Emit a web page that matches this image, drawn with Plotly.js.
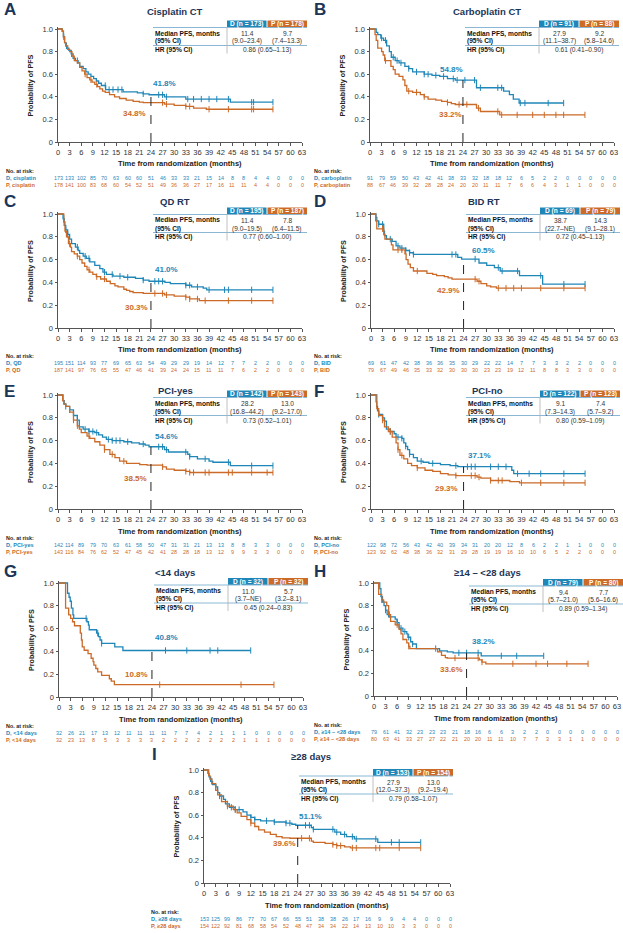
<!DOCTYPE html>
<html>
<head>
<meta charset="utf-8">
<script src="https://cdn.plot.ly/plotly-3.0.1.min.js"></script>
<style>
  html, body { margin: 0; padding: 0; background: #fff; }
  #chart { width: 623px; height: 933px; }
</style>
</head>
<body>
<div id="chart"></div>
<script>
(() => {
    "use strict";

    // ---- data ----
    const xTicks = [0, 3, 6, 9, 12, 15, 18, 21, 24, 27, 30, 33, 36, 39, 42, 45, 48, 51, 54, 57, 60, 63];
    const yTicks = [0, 0.2, 0.4, 0.6, 0.8, 1.0];
    const yTickText = ["0", "0.2", "0.4", "0.6", "0.8", "1.0"];

    const titles = ["Cisplatin CT", "Carboplatin CT", "QD RT", "BID RT", "PCI-yes", "PCI-no", "<14 days", "≥14 – <28 days", "≥28 days"];
    const groups = ["cisplatin", "carboplatin", "QD", "BID", "PCI-yes", "PCI-no", "<14 days", "≥14 – <28 days", "≥28 days"];
    const nD = [173, 91, 195, 69, 142, 122, 32, 79, 153];
    const nP = [178, 88, 187, 79, 143, 123, 32, 80, 154];
    const medD = ["11.4", "27.9", "11.4", "38.7", "28.2", "9.1", "11.0", "9.4", "27.9"];
    const ciD = ["(9.0–23.4)", "(11.1–38.7)", "(9.0–19.5)", "(22.7–NE)", "(16.8–44.2)", "(7.3–14.3)", "(3.7–NE)", "(5.7–21.0)", "(12.0–37.3)"];
    const medP = ["9.7", "9.2", "7.8", "14.3", "13.0", "7.4", "5.7", "7.7", "13.0"];
    const ciP = ["(7.4–13.3)", "(5.8–14.6)", "(6.4–11.5)", "(9.1–28.1)", "(9.2–17.0)", "(5.7–9.2)", "(3.2–8.1)", "(5.6–16.6)", "(9.2–19.4)"];
    const hr = ["0.86 (0.65–1.13)", "0.61 (0.41–0.90)", "0.77 (0.60–1.00)", "0.72 (0.45–1.13)", "0.73 (0.52–1.01)", "0.80 (0.59–1.09)", "0.45 (0.24–0.83)", "0.89 (0.59–1.34)", "0.79 (0.58–1.07)"];
    const pfs24D = [41.8, 54.8, 41.0, 60.5, 54.6, 37.1, 40.8, 38.2, 51.1];
    const pfs24P = [34.8, 33.2, 30.3, 42.9, 38.5, 29.3, 10.8, 33.6, 39.6];

    // A: cisplatin
    const cisD_t = [0, 1.1, 1.4, 1.7, 2.0, 2.3, 2.8, 3.4, 3.9, 4.5, 5.2, 5.6, 6.5, 7.2, 7.8, 8.5, 9.2, 9.9, 10.5, 11.2, 12.3, 16.8, 20.5, 22.0, 23.5, 27.5, 33.0, 44.5, 55.5];
    const cisD_s = [1, 0.98, 0.93, 0.88, 0.85, 0.83, 0.81, 0.78, 0.74, 0.72, 0.70, 0.67, 0.65, 0.62, 0.60, 0.58, 0.56, 0.54, 0.52, 0.50, 0.464, 0.444, 0.435, 0.426, 0.418, 0.40, 0.38, 0.352, 0.352];
    const cisD_c = [1.5, 2.2, 3.5, 5.0, 12.2, 13.2, 14.2, 15.5, 16.5, 22.0, 26.0, 27.0, 28.0, 33.5, 35.0, 37.0, 39.0, 41.0, 44.0, 50.0, 50.5, 55.5];
    const cisD_risk = [173, 133, 102, 85, 70, 63, 60, 60, 51, 46, 33, 33, 21, 15, 14, 8, 8, 4, 4, 0, 0, 0];
    const cisP_t = [0, 1.1, 1.4, 1.7, 2.0, 2.5, 3.0, 3.6, 4.2, 5.0, 5.6, 6.2, 6.9, 7.5, 8.2, 8.8, 9.5, 10.2, 10.8, 11.5, 12.2, 13.3, 14.6, 15.9, 17.6, 19.4, 21.0, 22.0, 27.5, 30.0, 33.0, 35.0, 38.3, 55.5];
    const cisP_s = [1, 0.98, 0.93, 0.88, 0.85, 0.82, 0.80, 0.76, 0.72, 0.70, 0.66, 0.63, 0.60, 0.57, 0.55, 0.53, 0.51, 0.49, 0.47, 0.45, 0.44, 0.42, 0.40, 0.385, 0.37, 0.36, 0.352, 0.348, 0.335, 0.325, 0.315, 0.30, 0.29, 0.29];
    const cisP_c = [7.0, 8.5, 10.0, 27.0, 28.0, 33.0, 34.0, 39.0, 44.0, 50.0, 50.5, 55.5];
    const cisP_risk = [178, 141, 100, 83, 68, 60, 54, 52, 51, 49, 36, 36, 27, 17, 16, 11, 11, 4, 4, 0, 0, 0];

    // B: carboplatin
    const carD_t = [0, 1.6, 2.0, 2.8, 3.5, 4.3, 5.0, 5.5, 6.5, 7.5, 9.0, 10.0, 11.0, 14.0, 16.0, 18.0, 20.0, 22.0, 27.5, 34.5, 36.0, 37.0, 38.5, 50.0];
    const carD_s = [1, 0.97, 0.95, 0.92, 0.90, 0.85, 0.80, 0.75, 0.72, 0.70, 0.67, 0.65, 0.62, 0.60, 0.59, 0.58, 0.56, 0.548, 0.48, 0.45, 0.42, 0.38, 0.345, 0.345];
    const carD_c = [3.0, 4.0, 6.0, 7.0, 8.0, 10.0, 12.0, 14.0, 15.0, 17.0, 19.0, 21.5, 22.5, 24.5, 27.0, 28.5, 33.0, 34.0, 38.8, 40.0, 46.0, 50.0];
    const carD_risk = [91, 79, 59, 50, 43, 42, 41, 38, 33, 32, 18, 18, 12, 6, 5, 2, 2, 0, 0, 0, 0, 0];
    const carP_t = [0, 1.3, 1.6, 2.0, 3.0, 3.4, 3.8, 5.4, 6.0, 6.5, 7.5, 8.5, 9.0, 9.5, 11.0, 13.0, 14.0, 15.0, 17.0, 18.5, 20.0, 21.0, 22.0, 27.5, 28.5, 33.5, 55.5];
    const carP_s = [1, 0.95, 0.90, 0.83, 0.80, 0.77, 0.72, 0.67, 0.64, 0.60, 0.58, 0.55, 0.50, 0.45, 0.44, 0.42, 0.40, 0.38, 0.37, 0.36, 0.35, 0.34, 0.332, 0.30, 0.27, 0.24, 0.24];
    const carP_c = [4.0, 10.0, 12.0, 14.0, 20.0, 23.0, 25.0, 28.0, 33.0, 34.0, 38.0, 42.0, 45.0, 48.0, 50.0, 55.5];
    const carP_risk = [88, 67, 46, 39, 32, 28, 28, 24, 20, 20, 11, 11, 7, 6, 6, 4, 3, 1, 1, 0, 0, 0];

    // C: QD RT
    const qdD_t = [0, 1.3, 1.6, 2.0, 2.5, 3.0, 3.5, 4.5, 5.2, 5.6, 6.5, 7.3, 8.2, 9.5, 10.8, 11.6, 12.5, 14.2, 17.0, 20.0, 22.0, 23.5, 27.6, 29.0, 33.0, 34.5, 37.5, 38.4, 55.5];
    const qdD_s = [1, 0.96, 0.90, 0.86, 0.82, 0.78, 0.74, 0.71, 0.68, 0.655, 0.63, 0.61, 0.58, 0.55, 0.52, 0.49, 0.47, 0.455, 0.445, 0.435, 0.42, 0.41, 0.40, 0.39, 0.375, 0.36, 0.35, 0.335, 0.335];
    const qdD_c = [1.5, 2.0, 2.5, 5.0, 7.0, 8.0, 12.0, 14.0, 16.0, 18.0, 22.0, 25.0, 26.0, 27.0, 33.0, 34.0, 36.0, 39.0, 43.0, 44.0, 50.0, 55.5];
    const qdD_risk = [195, 151, 114, 93, 77, 69, 65, 63, 54, 49, 29, 29, 19, 14, 12, 7, 7, 2, 2, 0, 0, 0];
    const qdP_t = [0, 1.5, 1.8, 2.2, 2.7, 3.2, 3.5, 4.2, 5.0, 5.6, 6.2, 6.9, 7.5, 8.2, 9.0, 9.9, 11.0, 12.5, 13.5, 14.7, 15.5, 17.0, 17.7, 18.5, 19.4, 22.0, 27.5, 30.0, 33.0, 34.0, 36.5, 55.5];
    const qdP_s = [1, 0.93, 0.85, 0.80, 0.74, 0.71, 0.67, 0.65, 0.63, 0.60, 0.57, 0.54, 0.51, 0.49, 0.47, 0.45, 0.43, 0.41, 0.39, 0.37, 0.36, 0.34, 0.33, 0.32, 0.31, 0.303, 0.29, 0.28, 0.27, 0.255, 0.24, 0.24];
    const qdP_c = [3.0, 5.0, 8.0, 10.0, 12.0, 25.0, 27.0, 28.0, 33.0, 34.0, 36.0, 38.0, 44.0, 50.0, 55.5];
    const qdP_risk = [187, 141, 97, 76, 65, 55, 47, 46, 41, 39, 24, 24, 15, 11, 11, 7, 6, 2, 2, 0, 0, 0];

    // D: BID RT
    const bidD_t = [0, 1.3, 1.5, 2.0, 3.3, 3.5, 4.0, 5.5, 6.5, 7.5, 9.0, 10.0, 11.0, 22.5, 23.5, 28.0, 30.0, 32.0, 33.5, 38.5, 44.5, 55.5];
    const bidD_s = [1, 0.97, 0.94, 0.91, 0.85, 0.81, 0.78, 0.76, 0.72, 0.70, 0.68, 0.66, 0.645, 0.62, 0.605, 0.57, 0.55, 0.53, 0.50, 0.46, 0.385, 0.385];
    const bidD_c = [2.0, 3.0, 5.0, 7.0, 8.0, 9.0, 10.0, 11.0, 21.0, 22.0, 27.0, 33.0, 34.0, 38.0, 44.0, 50.0, 55.5];
    const bidD_risk = [69, 61, 47, 42, 38, 36, 36, 35, 30, 29, 22, 22, 14, 7, 7, 3, 3, 2, 2, 0, 0, 0];
    const bidP_t = [0, 1.2, 1.5, 3.3, 3.6, 5.3, 5.7, 8.8, 9.1, 9.6, 10.2, 11.0, 14.5, 16.0, 17.0, 19.0, 20.0, 21.0, 27.5, 28.5, 30.0, 31.0, 32.5, 55.5];
    const bidP_s = [1, 0.94, 0.87, 0.82, 0.78, 0.73, 0.685, 0.65, 0.60, 0.56, 0.53, 0.50, 0.48, 0.47, 0.46, 0.45, 0.44, 0.429, 0.41, 0.39, 0.37, 0.36, 0.35, 0.35];
    const bidP_c = [3.0, 7.0, 8.0, 12.0, 27.0, 28.0, 33.0, 35.0, 37.0, 39.0, 44.0, 50.0, 55.5];
    const bidP_risk = [79, 67, 49, 46, 35, 33, 32, 30, 30, 30, 23, 23, 19, 12, 11, 8, 8, 3, 3, 0, 0, 0];

    // E: PCI-yes
    const pciyD_t = [0, 1.3, 1.6, 2.0, 3.0, 4.0, 5.0, 5.5, 6.5, 8.0, 9.5, 10.5, 11.5, 12.5, 14.0, 17.0, 19.0, 21.0, 22.5, 23.5, 27.5, 28.5, 33.5, 34.0, 36.0, 39.0, 40.0, 44.5, 55.5];
    const pciyD_s = [1, 0.95, 0.92, 0.90, 0.87, 0.82, 0.78, 0.72, 0.70, 0.68, 0.67, 0.65, 0.63, 0.61, 0.60, 0.59, 0.58, 0.57, 0.56, 0.546, 0.52, 0.50, 0.48, 0.46, 0.44, 0.42, 0.41, 0.38, 0.38];
    const pciyD_c = [2.0, 3.0, 5.0, 7.0, 8.0, 9.0, 10.0, 13.0, 14.0, 15.0, 16.0, 18.0, 22.0, 26.0, 27.0, 28.0, 33.0, 34.0, 38.0, 44.0, 50.0, 55.5];
    const pciyD_risk = [142, 114, 89, 79, 70, 63, 61, 58, 50, 47, 31, 31, 21, 13, 13, 8, 8, 3, 3, 0, 0, 0];
    const pciyP_t = [0, 1.2, 1.5, 2.0, 3.0, 4.0, 5.0, 5.5, 6.0, 7.5, 8.2, 9.5, 10.8, 12.0, 13.4, 14.7, 15.9, 17.7, 21.1, 23.0, 27.0, 28.0, 30.0, 33.0, 34.0, 55.5];
    const pciyP_s = [1, 0.95, 0.92, 0.90, 0.85, 0.78, 0.73, 0.70, 0.67, 0.64, 0.62, 0.59, 0.56, 0.52, 0.48, 0.45, 0.42, 0.40, 0.39, 0.385, 0.37, 0.35, 0.34, 0.33, 0.32, 0.32];
    const pciyP_c = [4.0, 5.0, 8.0, 12.0, 14.0, 17.0, 27.0, 33.0, 34.0, 35.0, 38.0, 39.0, 44.0, 45.0, 50.0, 54.0, 55.5];
    const pciyP_risk = [143, 116, 84, 76, 62, 52, 47, 45, 42, 41, 28, 28, 18, 13, 12, 9, 9, 3, 3, 0, 0, 0];

    // F: PCI-no
    const pcinD_t = [0, 1.5, 1.7, 2.0, 3.0, 3.5, 4.0, 5.0, 6.0, 6.5, 8.0, 8.5, 9.0, 9.5, 10.0, 11.0, 12.0, 13.5, 15.0, 18.0, 20.5, 22.5, 36.5, 37.0, 55.5];
    const pcinD_s = [1, 0.90, 0.86, 0.83, 0.80, 0.77, 0.70, 0.68, 0.66, 0.63, 0.62, 0.58, 0.55, 0.52, 0.48, 0.45, 0.42, 0.41, 0.40, 0.39, 0.38, 0.371, 0.34, 0.31, 0.31];
    const pcinD_c = [2.0, 3.0, 5.0, 7.0, 8.0, 9.0, 10.0, 13.0, 16.0, 22.0, 25.0, 26.0, 27.0, 31.0, 33.0, 35.0, 38.0, 41.0, 44.0, 50.0, 55.5];
    const pcinD_risk = [122, 98, 72, 56, 43, 42, 40, 39, 34, 31, 20, 20, 12, 8, 6, 2, 2, 1, 1, 0, 0, 0];
    const pcinP_t = [0, 1.3, 1.5, 2.0, 3.0, 3.5, 4.5, 5.5, 6.5, 7.0, 7.5, 8.5, 9.5, 10.5, 12.0, 14.0, 16.0, 18.0, 20.0, 22.0, 27.5, 28.5, 31.0, 36.0, 38.5, 55.5];
    const pcinP_s = [1, 0.94, 0.88, 0.82, 0.78, 0.72, 0.68, 0.63, 0.58, 0.52, 0.47, 0.44, 0.40, 0.38, 0.36, 0.34, 0.33, 0.31, 0.30, 0.293, 0.28, 0.27, 0.25, 0.24, 0.23, 0.23];
    const pcinP_c = [3.0, 5.0, 7.0, 8.0, 12.0, 22.0, 26.0, 27.0, 28.0, 31.0, 33.0, 34.0, 39.0, 44.0, 50.0, 55.5];
    const pcinP_risk = [123, 92, 62, 48, 38, 36, 32, 31, 29, 28, 19, 19, 16, 10, 10, 6, 5, 2, 2, 0, 0, 0];

    // G: <14 days
    const lt14D_t = [0, 2.2, 2.6, 2.9, 3.2, 3.6, 3.8, 7.2, 7.6, 7.8, 9.7, 10.2, 10.6, 11.0, 14.4, 16.5, 49.5];
    const lt14D_s = [1, 0.91, 0.875, 0.84, 0.78, 0.72, 0.69, 0.66, 0.63, 0.59, 0.56, 0.53, 0.50, 0.47, 0.44, 0.408, 0.408];
    const lt14D_c = [7.0, 10.0, 11.0, 27.5, 33.0, 39.0, 41.0, 49.5];
    const lt14D_risk = [32, 26, 21, 17, 13, 12, 11, 11, 11, 11, 7, 7, 4, 2, 1, 1, 1, 0, 0, 0, 0, 0];
    const lt14P_t = [0, 1.7, 2.5, 3.0, 3.5, 4.0, 5.5, 5.8, 6.0, 6.5, 7.5, 8.3, 8.8, 9.0, 9.5, 10.0, 11.0, 13.0, 13.5, 14.3, 55.5];
    const lt14P_s = [1, 0.78, 0.72, 0.69, 0.66, 0.625, 0.56, 0.50, 0.44, 0.41, 0.38, 0.34, 0.31, 0.28, 0.25, 0.22, 0.19, 0.16, 0.14, 0.108, 0.108];
    const lt14P_c = [26.0, 47.0, 55.5];
    const lt14P_risk = [32, 23, 13, 8, 5, 3, 3, 3, 3, 2, 2, 2, 2, 2, 2, 2, 1, 1, 1, 0, 0, 0];

    // H: >=14 - <28 days
    const midD_t = [0, 1.5, 1.8, 2.2, 2.6, 3.0, 3.4, 3.8, 5.5, 6.0, 6.5, 7.5, 8.5, 8.8, 9.5, 10.0, 11.0, 17.0, 19.0, 20.5, 27.8, 44.0];
    const midD_s = [1, 0.95, 0.88, 0.83, 0.80, 0.76, 0.72, 0.70, 0.68, 0.65, 0.60, 0.57, 0.55, 0.52, 0.48, 0.46, 0.42, 0.40, 0.39, 0.382, 0.355, 0.355];
    const midD_c = [3.0, 6.0, 7.0, 8.0, 9.0, 10.0, 16.0, 22.0, 24.0, 27.0, 33.0, 37.0, 44.0];
    const midD_risk = [79, 61, 41, 32, 23, 23, 23, 21, 18, 16, 6, 6, 3, 2, 2, 0, 0, 0, 0, 0, 0, 0];
    const midP_t = [0, 1.2, 2.0, 2.5, 3.3, 3.8, 4.3, 5.5, 6.5, 7.0, 7.5, 8.5, 9.0, 9.3, 16.5, 17.5, 18.5, 19.0, 27.3, 28.0, 29.0, 55.5];
    const midP_s = [1, 0.90, 0.85, 0.83, 0.80, 0.72, 0.66, 0.63, 0.59, 0.55, 0.50, 0.47, 0.44, 0.42, 0.39, 0.36, 0.34, 0.336, 0.32, 0.30, 0.285, 0.285];
    const midP_c = [2.0, 4.0, 6.0, 9.0, 21.0, 27.0, 28.0, 36.0, 42.0, 45.0, 50.0, 55.5];
    const midP_risk = [80, 63, 41, 33, 27, 27, 22, 21, 20, 20, 11, 11, 10, 7, 7, 3, 3, 1, 1, 0, 0, 0];

    // I: >=28 days
    const ge28D_t = [0, 1.0, 1.3, 1.7, 2.2, 3.0, 3.5, 4.0, 5.0, 5.5, 6.5, 8.0, 10.0, 11.0, 12.0, 13.0, 14.5, 18.0, 21.0, 22.5, 23.5, 27.5, 28.0, 33.5, 35.0, 36.5, 38.5, 44.5, 55.5];
    const ge28D_s = [1, 0.97, 0.94, 0.90, 0.87, 0.85, 0.80, 0.77, 0.74, 0.70, 0.67, 0.65, 0.63, 0.60, 0.58, 0.56, 0.55, 0.54, 0.53, 0.52, 0.511, 0.49, 0.475, 0.45, 0.43, 0.41, 0.39, 0.36, 0.36];
    const ge28D_c = [2.0, 3.0, 4.0, 6.0, 7.0, 8.0, 9.0, 12.0, 13.0, 16.0, 18.0, 21.0, 22.0, 26.0, 27.0, 28.0, 33.0, 34.0, 36.0, 38.0, 39.0, 44.0, 48.0, 50.0, 55.5];
    const ge28D_risk = [153, 125, 99, 86, 77, 70, 67, 66, 55, 51, 38, 38, 26, 17, 16, 9, 9, 4, 4, 0, 0, 0];
    const ge28P_t = [0, 1.2, 1.5, 2.0, 3.0, 3.5, 4.5, 6.0, 7.5, 8.5, 9.5, 11.0, 12.0, 13.0, 14.0, 15.5, 17.0, 18.5, 20.0, 22.0, 27.5, 28.0, 31.0, 33.0, 34.0, 36.0, 37.5, 55.5];
    const ge28P_s = [1, 0.95, 0.92, 0.88, 0.82, 0.78, 0.72, 0.68, 0.65, 0.62, 0.59, 0.56, 0.53, 0.50, 0.47, 0.45, 0.43, 0.41, 0.40, 0.396, 0.37, 0.36, 0.35, 0.34, 0.33, 0.32, 0.31, 0.31];
    const ge28P_c = [6.0, 8.0, 12.0, 25.0, 27.0, 33.0, 34.0, 35.0, 38.0, 39.0, 44.0, 45.0, 50.0, 55.5];
    const ge28P_risk = [154, 122, 92, 81, 68, 58, 54, 52, 48, 47, 34, 34, 22, 14, 13, 10, 10, 3, 3, 0, 0, 0];

    const curvesD = [
        [cisD_t, cisD_s, cisD_c, cisD_risk], [carD_t, carD_s, carD_c, carD_risk],
        [qdD_t, qdD_s, qdD_c, qdD_risk], [bidD_t, bidD_s, bidD_c, bidD_risk],
        [pciyD_t, pciyD_s, pciyD_c, pciyD_risk], [pcinD_t, pcinD_s, pcinD_c, pcinD_risk],
        [lt14D_t, lt14D_s, lt14D_c, lt14D_risk], [midD_t, midD_s, midD_c, midD_risk],
        [ge28D_t, ge28D_s, ge28D_c, ge28D_risk],
    ];
    const curvesP = [
        [cisP_t, cisP_s, cisP_c, cisP_risk], [carP_t, carP_s, carP_c, carP_risk],
        [qdP_t, qdP_s, qdP_c, qdP_risk], [bidP_t, bidP_s, bidP_c, bidP_risk],
        [pciyP_t, pciyP_s, pciyP_c, pciyP_risk], [pcinP_t, pcinP_s, pcinP_c, pcinP_risk],
        [lt14P_t, lt14P_s, lt14P_c, lt14P_risk], [midP_t, midP_s, midP_c, midP_risk],
        [ge28P_t, ge28P_s, ge28P_c, ge28P_risk],
    ];

    // ---- layout (pixel boxes of each panel) ----
    const W = 623, H = 933;
    const BLUE = "#1f87b8", ORANGE = "#cc6a27", NAVY = "#1c3557";
    const FONT = "Liberation Sans, Arial, sans-serif";
    const px = (x) => x / W;
    const py = (y) => 1 - y / H;
    const esc = (s) => s.replace(/</g, "&lt;").replace(/>/g, "&gt;");

    const boxes = [
        { l: 58, r: 302, t: 29, b: 142, hy: 20.5, letter: "A", lx: 2, ly: 10, tx: 175, ty: 12, rx: 4, dLab: [27.5, 0.10], pLab: [19.8, -0.10] },
        { l: 370, r: 614, t: 29, b: 142, hy: 20.5, letter: "B", lx: 312, ly: 10, tx: 487, ty: 12, rx: 312, dLab: [21.0, 0.09], pLab: [20.7, -0.09] },
        { l: 58, r: 302, t: 214, b: 328, hy: 207.5, letter: "C", lx: 2, ly: 201, tx: 175, ty: 201, rx: 4, dLab: [28.0, 0.10], pLab: [20.3, -0.12] },
        { l: 371, r: 614, t: 214, b: 328, hy: 207.5, letter: "D", lx: 312, ly: 201, tx: 484, ty: 201, rx: 312, dLab: [29.2, 0.075], pLab: [20.0, -0.10] },
        { l: 58, r: 302, t: 395, b: 509, hy: 390.5, letter: "E", lx: 2, ly: 391, tx: 175, ty: 390, rx: 4, dLab: [28.0, 0.09], pLab: [20.0, -0.12] },
        { l: 371, r: 614, t: 395, b: 509, hy: 390.5, letter: "F", lx: 312, ly: 391, tx: 487, ty: 390, rx: 312, dLab: [28.1, 0.10], pLab: [19.5, -0.11] },
        { l: 59, r: 303, t: 583, b: 697, hy: 578, letter: "G", lx: 2, ly: 571, tx: 175, ty: 572, rx: 4, dLab: [27.8, 0.11], pLab: [20.0, 0.09] },
        { l: 374, r: 617, t: 583, b: 696, hy: 579, letter: "H", lx: 312, ly: 571, tx: 487, ty: 572, rx: 312, dLab: [28.3, 0.10], pLab: [20.1, -0.10] },
        { l: 204, r: 450, t: 770, b: 883, hy: 769, letter: "I", lx: 150, ly: 754, tx: 311, ty: 756, rx: 149, dLab: [27.4, 0.075], pLab: [20.7, -0.05] },
    ];

    const YTOP = 1.02;
    const survAt = (t, ts, ss) => {
        let v = ss[0];
        for (let i = 0; i < ts.length; i++) {
            if (ts[i] <= t) v = ss[i];
        }
        return v;
    };

    const traces = [];
    const annotations = [];
    const shapes = [];
    const layout = {
        width: W,
        height: H,
        margin: { l: 0, r: 0, t: 0, b: 0 },
        paper_bgcolor: "#ffffff",
        plot_bgcolor: "rgba(0,0,0,0)",
        showlegend: false,
        font: { family: FONT, color: "#222" },
        hovermode: false,
    };

    const text = (x, y, t, opts = {}) => ({
        xref: "paper", yref: "paper", x: px(x), y: py(y), text: t, showarrow: false,
        xanchor: opts.xanchor || "center", yanchor: "middle",
        font: { family: FONT, size: opts.size || 6.5, color: opts.color || "#222" },
    });

    boxes.forEach((bx, i) => {
        const n = i + 1;
        const xa = n === 1 ? "x" : "x" + n;
        const ya = n === 1 ? "y" : "y" + n;
        const unit = bx.b - bx.t;          // px per 1.0 on the y axis

        layout["xaxis" + (n === 1 ? "" : n)] = {
            domain: [px(bx.l), px(bx.r)], range: [0, 63], anchor: ya,
            showline: true, linecolor: "#555", linewidth: 1, mirror: false,
            ticks: "outside", ticklen: 2.5, tickcolor: "#555", tickwidth: 1,
            tickvals: xTicks, ticktext: xTicks.map(String),
            tickfont: { family: FONT, size: 7.5, color: "#333" },
            showgrid: false, zeroline: false, fixedrange: true,
        };
        layout["yaxis" + (n === 1 ? "" : n)] = {
            domain: [py(bx.b), py(bx.t - (YTOP - 1) * unit)], range: [0, YTOP], anchor: xa,
            showline: true, linecolor: "#555", linewidth: 1,
            ticks: "outside", ticklen: 2.5, tickcolor: "#555", tickwidth: 1,
            tickvals: yTicks, ticktext: yTickText,
            tickfont: { family: FONT, size: 7.5, color: "#333" },
            showgrid: false, zeroline: false, fixedrange: true,
        };

        const series = [[curvesD[i], BLUE], [curvesP[i], ORANGE]];
        series.forEach(([c, col], k) => {
            const [ts, ss, cens, risk] = c;
            traces.push({
                x: ts, y: ss, xaxis: xa, yaxis: ya, type: "scatter", mode: "lines",
                line: { color: col, width: 1.3, shape: "hv" }, hoverinfo: "skip",
            });
            traces.push({
                x: cens, y: cens.map((t) => survAt(t, ts, ss)), xaxis: xa, yaxis: ya,
                type: "scatter", mode: "markers", hoverinfo: "skip", cliponaxis: false,
                marker: { symbol: "line-ns-open", size: 4.5, color: col, line: { color: col, width: 1 } },
            });
            // numbers at risk under each tick
            const off = k === 0 ? 35.5 : 42.5;
            risk.forEach((v, j) => {
                annotations.push({
                    xref: xa, yref: "paper", x: xTicks[j], y: py(bx.b + off), text: String(v),
                    showarrow: false, xanchor: "center", yanchor: "middle",
                    font: { family: FONT, size: 5.4, color: col },
                });
            });
        });

        // 24-month reference
        const d24 = pfs24D[i] / 100, p24 = pfs24P[i] / 100;
        shapes.push({
            type: "line", xref: xa, yref: ya, x0: 24, x1: 24, y0: 0, y1: Math.max(d24, p24),
            line: { color: "#222", width: 1, dash: "dash" },
        });
        annotations.push({
            xref: xa, yref: ya, x: bx.dLab[0], y: d24 + bx.dLab[1], showarrow: false,
            text: "<b>" + pfs24D[i].toFixed(1) + "%</b>", font: { family: FONT, size: 8, color: BLUE },
        });
        annotations.push({
            xref: xa, yref: ya, x: bx.pLab[0], y: p24 + bx.pLab[1], showarrow: false,
            text: "<b>" + pfs24P[i].toFixed(1) + "%</b>", font: { family: FONT, size: 8, color: ORANGE },
        });

        // titles and labels
        annotations.push(text(bx.lx, bx.ly, "<b>" + bx.letter + "</b>", { xanchor: "left", size: 17, color: NAVY }));
        annotations.push(text(bx.tx, bx.ty, "<b>" + esc(titles[i]) + "</b>", { size: 9.5, color: NAVY }));
        annotations.push({
            ...text(bx.l - 28, (bx.t + bx.b) / 2, "<b>Probability of PFS</b>", { size: 7.2 }), textangle: -90,
        });
        annotations.push(text((bx.l + bx.r) / 2, bx.b + 22, "<b>Time from randomization (months)</b>", { size: 7.5 }));
        annotations.push(text(bx.rx, bx.b + 28.5, "<b>No. at risk:</b>", { xanchor: "left", size: 5.4 }));
        annotations.push(text(bx.rx, bx.b + 35.5, "<b>D, " + esc(groups[i]) + "</b>", { xanchor: "left", size: 5.6, color: BLUE }));
        annotations.push(text(bx.rx, bx.b + 42.5, "<b>P, " + esc(groups[i]) + "</b>", { xanchor: "left", size: 5.6, color: ORANGE }));

        // median / HR table
        const tl = bx.l + 95, sep = bx.l + 169, split = bx.l + 209, tr = bx.l + 249;
        const h0 = bx.hy, h1 = bx.hy + 7;
        shapes.push({ type: "rect", xref: "paper", yref: "paper", x0: px(sep), x1: px(split - 0.5), y0: py(h1), y1: py(h0), fillcolor: BLUE, line: { width: 0 } });
        shapes.push({ type: "rect", xref: "paper", yref: "paper", x0: px(split + 0.5), x1: px(tr), y0: py(h1), y1: py(h0), fillcolor: ORANGE, line: { width: 0 } });
        shapes.push({ type: "line", xref: "paper", yref: "paper", x0: px(tl), x1: px(tr), y0: py(h1), y1: py(h1), line: { color: "#8ab8d4", width: 1 } });
        shapes.push({ type: "line", xref: "paper", yref: "paper", x0: px(tl), x1: px(tr), y0: py(h1 + 18), y1: py(h1 + 18), line: { color: "#8ab8d4", width: 1 } });
        shapes.push({ type: "line", xref: "paper", yref: "paper", x0: px(sep), x1: px(sep), y0: py(h1), y1: py(h1 + 26), line: { color: "#b0b0b0", width: 0.8 } });
        annotations.push(text((sep + split) / 2, (h0 + h1) / 2, "<b>D (n = " + nD[i] + ")</b>", { size: 6.6, color: "#ffffff" }));
        annotations.push(text((split + tr) / 2, (h0 + h1) / 2, "<b>P (n = " + nP[i] + ")</b>", { size: 6.6, color: "#ffffff" }));
        annotations.push(text(tl, h1 + 6, "<b>Median PFS, months</b>", { xanchor: "left", size: 6.6, color: "#111" }));
        annotations.push(text(tl, h1 + 14, "<b>(95% CI)</b>", { xanchor: "left", size: 6.6, color: "#111" }));
        annotations.push(text(tl, h1 + 23, "<b>HR (95% CI)</b>", { xanchor: "left", size: 6.6, color: "#111" }));
        annotations.push(text((sep + split) / 2, h1 + 6, medD[i], { size: 6.6, color: "#333" }));
        annotations.push(text((sep + split) / 2, h1 + 14, ciD[i], { size: 6.6, color: "#333" }));
        annotations.push(text((split + tr) / 2, h1 + 6, medP[i], { size: 6.6, color: "#333" }));
        annotations.push(text((split + tr) / 2, h1 + 14, ciP[i], { size: 6.6, color: "#333" }));
        annotations.push(text((sep + tr) / 2, h1 + 23, hr[i], { size: 6.6, color: "#333" }));
    });

    layout.annotations = annotations;
    layout.shapes = shapes;

    Plotly.newPlot("chart", traces, layout, { responsive: false, displayModeBar: false, staticPlot: true });
})();
</script>
</body>
</html>
